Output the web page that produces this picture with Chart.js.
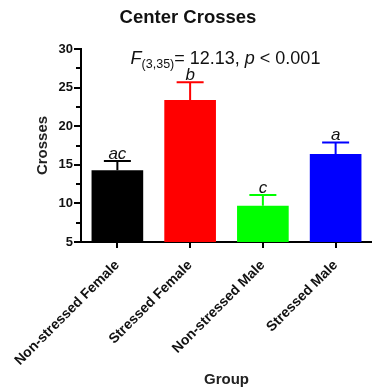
<!DOCTYPE html>
<html>
<head>
<meta charset="utf-8">
<script src="https://cdn.jsdelivr.net/npm/chart.js@4/dist/chart.umd.min.js"></script>
<style>
  html, body { margin: 0; padding: 0; background: #fff; }
  canvas { display: block; }
</style>
</head>
<body>
<canvas id="chart" width="372" height="391"></canvas>
<script>
// Center crosses per group: mean with SEM, plus post-hoc group letters
const groups = ['Non-stressed Female', 'Stressed Female', 'Non-stressed Male', 'Stressed Male'];
const meanCrosses = [14.3, 23.4, 9.7, 16.4];
const semCrosses = [1.2, 2.3, 1.4, 1.5];
const groupLetters = ['ac', 'b', 'c', 'a'];
const barColors = ['#000000', '#ff0000', '#00ff00', '#0000ff'];
const yMin = 5, yMax = 30, yMajorStep = 5, yMinorStep = 2.5;

const FONT = '"Liberation Sans", Arial, Helvetica, sans-serif';

// Axis tick marks (major and minor) drawn by hand so they can differ in length
const tickMarks = {
  id: 'tickMarks',
  afterDraw(chart) {
    const {ctx, scales: {x, y}, chartArea} = chart;
    ctx.save();
    ctx.strokeStyle = '#000';
    ctx.lineWidth = 2;
    for (let v = yMin; v <= yMax + 1e-9; v += yMinorStep) {
      const py = Math.round(y.getPixelForValue(v));
      const major = Math.abs(v / yMajorStep - Math.round(v / yMajorStep)) < 1e-6;
      const len = major ? 6 : 4;
      ctx.beginPath();
      ctx.moveTo(chartArea.left - 1, py);
      ctx.lineTo(chartArea.left - 1 - len, py);
      ctx.stroke();
    }
    groups.forEach((g, i) => {
      const px = Math.round(x.getPixelForValue(i));
      ctx.beginPath();
      ctx.moveTo(px, chartArea.bottom);
      ctx.lineTo(px, chartArea.bottom + 6);
      ctx.stroke();
    });
    ctx.restore();
  }
};

// SEM error bars (upper only) and significance letters above them
const errorBars = {
  id: 'errorBars',
  afterDatasetsDraw(chart) {
    const {ctx, scales: {y}} = chart;
    const meta = chart.getDatasetMeta(0);
    ctx.save();
    meta.data.forEach((bar, i) => {
      const top = y.getPixelForValue(meanCrosses[i]);
      const capY = y.getPixelForValue(meanCrosses[i] + semCrosses[i]);
      const cx = bar.x;
      ctx.strokeStyle = barColors[i];
      ctx.lineWidth = 2;
      ctx.beginPath();
      ctx.moveTo(cx, top);
      ctx.lineTo(cx, capY);
      ctx.moveTo(cx - 13.5, capY);
      ctx.lineTo(cx + 13.5, capY);
      ctx.stroke();
      ctx.fillStyle = '#111';
      ctx.font = 'italic 17px ' + FONT;
      ctx.textAlign = 'center';
      ctx.textBaseline = 'alphabetic';
      ctx.fillText(groupLetters[i], cx, capY - 2);
    });
    ctx.restore();
  }
};

// ANOVA result written inside the plot area
const anovaText = {
  id: 'anovaText',
  afterDraw(chart) {
    const {ctx, chartArea, scales: {y}} = chart;
    const parts = [
      {t: 'F', f: 'italic 18px ' + FONT, dy: 0},
      {t: '(3,35)', f: '12.5px ' + FONT, dy: 4},
      {t: '= 12.13, ', f: '18px ' + FONT, dy: 0},
      {t: 'p', f: 'italic 18px ' + FONT, dy: 0},
      {t: ' < 0.001', f: '18px ' + FONT, dy: 0}
    ];
    ctx.save();
    let total = 0;
    parts.forEach(p => { ctx.font = p.f; p.w = ctx.measureText(p.t).width; total += p.w; });
    let xPos = (chartArea.left + chartArea.right) / 2 - 1 - total / 2;
    const base = y.getPixelForValue(27.5) - 4.5;
    ctx.fillStyle = '#111';
    ctx.textBaseline = 'alphabetic';
    ctx.textAlign = 'left';
    parts.forEach(p => {
      ctx.font = p.f;
      ctx.fillText(p.t, xPos, base + p.dy);
      xPos += p.w;
    });
    ctx.restore();
  }
};

new Chart(document.getElementById('chart'), {
  type: 'bar',
  data: {
    labels: groups,
    datasets: [{
      data: meanCrosses,
      backgroundColor: barColors,
      borderWidth: 0,
      categoryPercentage: 0.71,
      barPercentage: 1
    }]
  },
  options: {
    responsive: false,
    devicePixelRatio: 1,
    animation: false,
    layout: { padding: { left: 4, right: 0, top: 0, bottom: 0 } },
    plugins: {
      legend: { display: false },
      tooltip: { enabled: false },
      title: {
        display: true,
        text: 'Center Crosses',
        color: '#111',
        font: { family: FONT, size: 18.5, weight: 'bold', lineHeight: 1.2 },
        padding: { top: 7, bottom: 19.8 }
      }
    },
    scales: {
      x: {
        grid: { display: false, drawTicks: false },
        border: { display: true, color: '#000', width: 2 },
        ticks: {
          color: '#111',
          font: { family: FONT, size: 14, weight: 'bold' },
          minRotation: 45,
          maxRotation: 45,
          autoSkip: false,
          padding: 15
        },
        title: {
          display: true,
          text: 'Group',
          color: '#222',
          font: { family: FONT, size: 15, weight: 'bold', lineHeight: 1.2 },
          padding: { top: 0, bottom: 2 }
        },
        afterFit(scale) {
          scale.height = 149;
          scale.paddingLeft = 0;
          scale.paddingRight = 0;
        }
      },
      y: {
        min: yMin,
        max: yMax,
        grid: { display: false, drawTicks: false },
        border: { display: true, color: '#000', width: 2 },
        ticks: {
          stepSize: yMinorStep,
          color: '#111',
          font: { family: FONT, size: 13, weight: 'bold' },
          padding: 8,
          callback(v) { return v % yMajorStep === 0 ? String(v) : ''; }
        },
        title: {
          display: true,
          text: 'Crosses',
          color: '#222',
          font: { family: FONT, size: 15, weight: 'bold', lineHeight: 1.2 },
          padding: { top: 29.5, bottom: 0 }
        },
        afterFit(scale) { scale.width = 77; }
      }
    }
  },
  plugins: [errorBars, tickMarks, anovaText]
});
</script>
</body>
</html>
